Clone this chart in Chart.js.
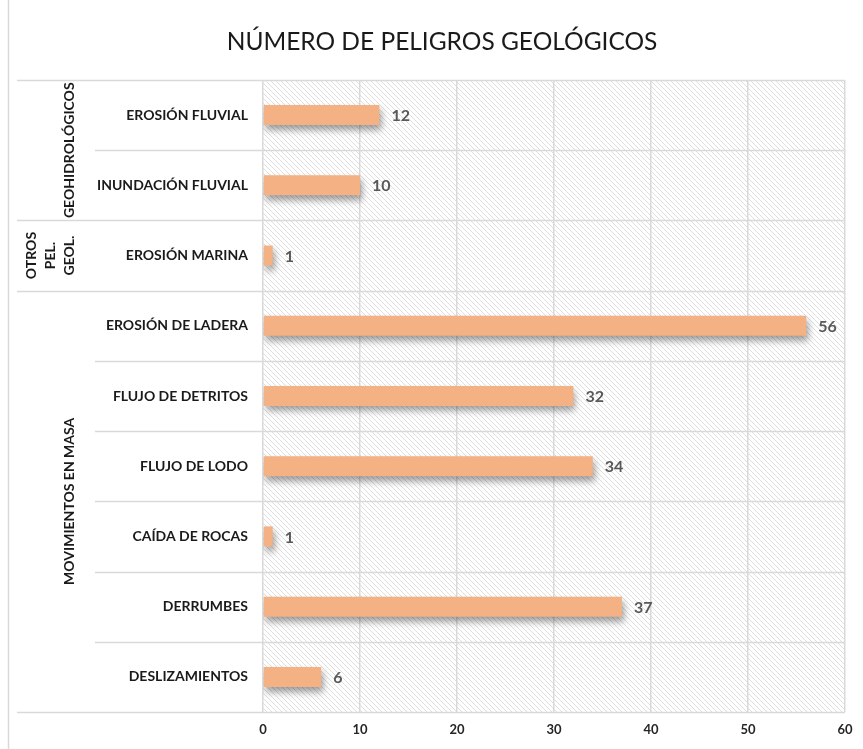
<!DOCTYPE html>
<html>
<head>
<meta charset="utf-8">
<script src="https://cdn.jsdelivr.net/npm/chart.js@4.4.1/dist/chart.umd.min.js"></script>
<style>
  html, body { margin: 0; padding: 0; background: #ffffff; }
  #wrap { width: 863px; height: 749px; position: relative; }
</style>
</head>
<body>
<div id="wrap"><canvas id="c" width="863" height="749"></canvas></div>
<script>
const title = "NÚMERO DE PELIGROS GEOLÓGICOS";
const categories = [
  "EROSIÓN FLUVIAL",
  "INUNDACIÓN FLUVIAL",
  "EROSIÓN MARINA",
  "EROSIÓN DE LADERA",
  "FLUJO DE DETRITOS",
  "FLUJO DE LODO",
  "CAÍDA DE ROCAS",
  "DERRUMBES",
  "DESLIZAMIENTOS"
];
const values = [12, 10, 1, 56, 32, 34, 1, 37, 6];
const groupNames = [["GEOHIDROLÓGICOS"], ["OTROS", "PEL.", "GEOL."], ["MOVIMIENTOS EN MASA"]];
const groupSizes = [2, 1, 6];
const xTicks = [0, 10, 20, 30, 40, 50, 60];

const FONT = "Lato, 'Open Sans', sans-serif";
const GRID = "#d9d9d9";

function makeHatch() {
  const s = 5;
  const p = document.createElement('canvas');
  p.width = s; p.height = s;
  const g = p.getContext('2d');
  g.fillStyle = '#ffffff';
  g.fillRect(0, 0, s, s);
  g.strokeStyle = '#dedede';
  g.lineWidth = 1;
  g.beginPath();
  g.moveTo(-1, -1); g.lineTo(s + 1, s + 1);
  g.moveTo(-1, s - 1); g.lineTo(1, s + 1);
  g.moveTo(s - 1, -1); g.lineTo(s + 1, 1);
  g.stroke();
  return p;
}

const decor = {
  id: 'decor',
  beforeDraw(chart) {
    const ctx = chart.ctx;
    const a = chart.chartArea;
    ctx.save();
    ctx.fillStyle = '#ffffff';
    ctx.fillRect(0, 0, chart.width, chart.height);
    ctx.fillStyle = ctx.createPattern(makeHatch(), 'repeat');
    ctx.fillRect(a.left, a.top, a.right - a.left, a.bottom - a.top);
    ctx.strokeStyle = GRID;
    ctx.lineWidth = 1.5;
    ctx.beginPath();
    ctx.moveTo(8.5, 0); ctx.lineTo(8.5, chart.height);
    ctx.stroke();
    ctx.fillStyle = '#1a1a1a';
    ctx.font = "24.5px " + FONT;
    ctx.textAlign = 'center';
    ctx.textBaseline = 'middle';
    ctx.fillText(title, 442, 42);
    ctx.restore();
  },
  afterDraw(chart) {
    const ctx = chart.ctx;
    const a = chart.chartArea;
    const n = categories.length;
    const step = (a.bottom - a.top) / n;
    ctx.save();
    ctx.strokeStyle = GRID;
    ctx.lineWidth = 1.5;
    let groupBounds = [0];
    let acc = 0;
    groupSizes.forEach(s => { acc += s; groupBounds.push(acc); });
    for (let i = 0; i <= n; i++) {
      const y = Math.round(a.top + i * step) + 0.5;
      const startX = groupBounds.includes(i) ? 17 : 95;
      ctx.beginPath();
      ctx.moveTo(startX, y); ctx.lineTo(a.right, y);
      ctx.stroke();
    }
    ctx.fillStyle = '#1a1a1a';
    ctx.font = "bold 14px " + FONT;
    ctx.textAlign = 'center';
    ctx.textBaseline = 'middle';
    for (let g = 0; g < groupSizes.length; g++) {
      const y0 = a.top + groupBounds[g] * step;
      const y1 = a.top + groupBounds[g + 1] * step;
      const cy = (y0 + y1) / 2;
      const lines = groupNames[g];
      const lh = 19;
      const lastX = 69;
      lines.forEach((txt, k) => {
        const x = lastX - (lines.length - 1 - k) * lh;
        ctx.save();
        ctx.translate(x, cy);
        ctx.rotate(-Math.PI / 2);
        ctx.fillText(txt, 0, 0);
        ctx.restore();
      });
    }
    const meta = chart.getDatasetMeta(0);
    ctx.fillStyle = '#595959';
    ctx.font = "bold 16px " + FONT;
    ctx.textAlign = 'left';
    ctx.textBaseline = 'middle';
    meta.data.forEach((bar, i) => {
      ctx.fillText(String(values[i]), bar.x + 12, bar.y + 1);
    });
    ctx.restore();
  }
};

const shadow = {
  id: 'shadow',
  beforeDatasetsDraw(chart) {
    const ctx = chart.ctx;
    ctx.save();
    ctx.shadowColor = 'rgba(0,0,0,0.38)';
    ctx.shadowBlur = 7;
    ctx.shadowOffsetX = 2;
    ctx.shadowOffsetY = 5;
  },
  afterDatasetsDraw(chart) {
    chart.ctx.restore();
  }
};

new Chart(document.getElementById('c'), {
  type: 'bar',
  data: {
    labels: categories,
    datasets: [{
      data: values,
      backgroundColor: '#F4B183',
      borderWidth: 0,
      barPercentage: 0.285,
      categoryPercentage: 1
    }]
  },
  options: {
    indexAxis: 'y',
    responsive: false,
    animation: false,
    devicePixelRatio: 1,
    layout: { padding: { left: 0, top: 80, right: 18, bottom: 0 } },
    plugins: {
      legend: { display: false },
      title: { display: false },
      tooltip: { enabled: false }
    },
    scales: {
      x: {
        min: 0, max: 60,
        afterBuildTicks(scale) { scale.ticks = xTicks.map(v => ({ value: v })); },
        afterFit(scale) { scale.height = 37; },
        ticks: {
          color: '#262626',
          font: { family: FONT, size: 13, weight: 'bold' },
          padding: 10,
          maxRotation: 0
        },
        grid: { color: GRID, lineWidth: 1.5, drawTicks: false },
        border: { display: false }
      },
      y: {
        afterFit(scale) { scale.width = 263; },
        ticks: {
          color: '#1a1a1a',
          font: { family: FONT, size: 14, weight: 'bold' },
          padding: 15,
          autoSkip: false
        },
        grid: { display: false, drawTicks: false },
        border: { display: false }
      }
    }
  },
  plugins: [decor, shadow]
});
</script>
</body>
</html>
